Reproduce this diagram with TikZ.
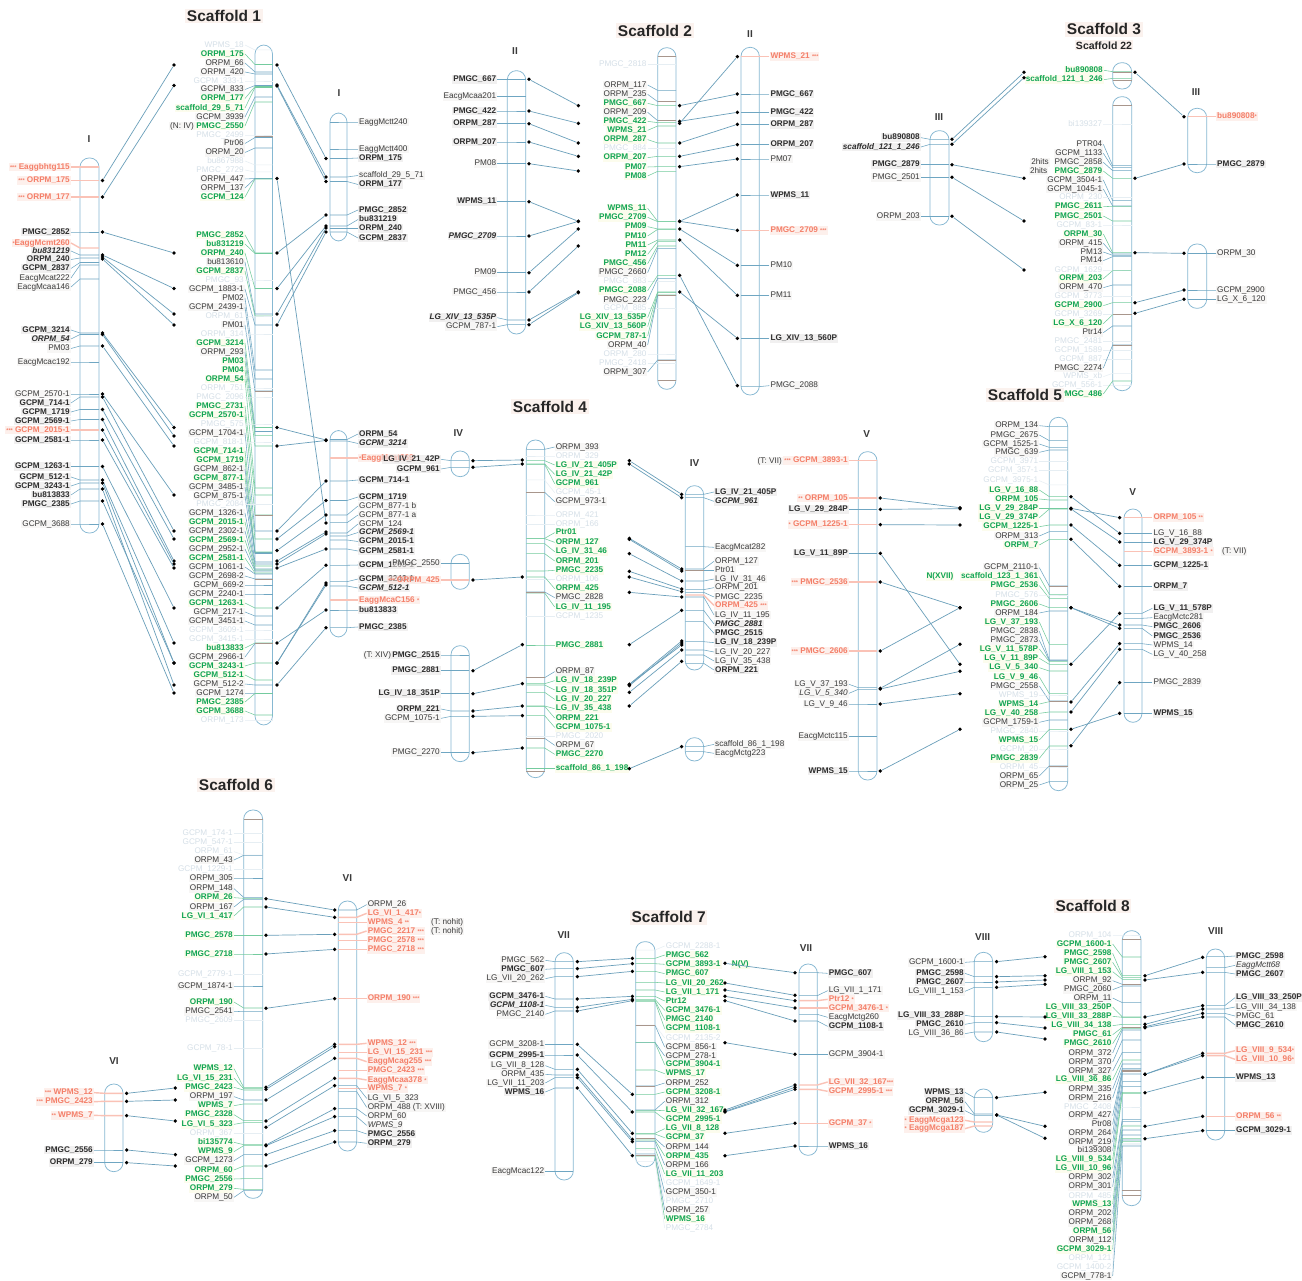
\documentclass[tikz,border=0pt]{standalone}
\usepackage{fontspec}
\setmainfont{Liberation Sans}
\definecolor{cchr}{HTML}{86B8D2}
\definecolor{cband}{HTML}{6FA6C2}
\definecolor{cbrown}{HTML}{A8968C}
\definecolor{cgrn}{HTML}{12A554}
\definecolor{cgrnl}{HTML}{74CB9E}
\definecolor{cfade}{HTML}{D6E0E8}
\definecolor{cfadel}{HTML}{E6EEF3}
\definecolor{cred}{HTML}{F47F69}
\definecolor{credl}{HTML}{FAC2B6}
\definecolor{ctxt}{HTML}{3A3A3A}
\definecolor{cconn}{HTML}{6A9FBA}
\definecolor{hn}{HTML}{F3F0EF}
\definecolor{hb}{HTML}{E9E7E7}
\definecolor{hg}{HTML}{FAFBE2}
\definecolor{hr}{HTML}{FDE6E0}
\definecolor{ht}{HTML}{FBF2EE}
\tikzset{
 lab/.style={inner xsep=1pt,inner ysep=.6pt,text height=6pt,text depth=1.6pt,font=\fontsize{8.2}{9}\selectfont},
 mn/.style={text=ctxt,fill=hn,fill opacity=.6,text opacity=1},
 mi/.style={text=ctxt,fill=hn,fill opacity=.6,text opacity=1,font=\fontsize{8.2}{9}\selectfont\itshape},
 mb/.style={text=ctxt!80!black,fill=hb,fill opacity=.6,text opacity=1,font=\fontsize{8.2}{9}\selectfont\bfseries},
 mbi/.style={text=ctxt!80!black,fill=hb,fill opacity=.6,text opacity=1,font=\fontsize{8.2}{9}\selectfont\bfseries\itshape},
 mg/.style={text=cgrn,fill=hg,fill opacity=.6,text opacity=1,font=\fontsize{8.2}{9}\selectfont\bfseries},
 mf/.style={text=cfade},
 mr/.style={text=cred,fill=hr,fill opacity=.6,text opacity=1,font=\fontsize{8.2}{9}\selectfont\bfseries},
 ldmn/.style={draw=cband,line width=.55pt},
 ldmi/.style={draw=cband,line width=.55pt},
 ldmb/.style={draw=cband,line width=.55pt},
 ldmbi/.style={draw=cband,line width=.55pt},
 ldmg/.style={draw=cgrnl,line width=.55pt},
 ldmf/.style={draw=cfadel,line width=.5pt},
 ldmr/.style={draw=credl,line width=1.4pt},
 chrom/.style={draw=cchr,line width=.75pt,rounded corners=9pt},
 dotn/.style={circle,fill=black,inner sep=0pt,minimum size=3.8pt},
 conn/.style={draw=cconn,line width=.7pt},
 ttl/.style={inner sep=1.5pt,fill=ht,text=black!85,font=\fontsize{15.5}{17}\selectfont\bfseries},
 ttls/.style={inner sep=1pt,fill=ht,text=black!85,font=\fontsize{10.5}{12}\selectfont\bfseries},
 rom/.style={inner sep=0pt,text=ctxt,font=\fontsize{10}{11}\selectfont\bfseries},
 bandb/.style={draw=cbrown,line width=.6pt}
}
\newcount\lk
\newcommand\Sx[1]{{\fontsize{5.5}{6}\selectfont #1}}
\newcommand\CHR[5]{\def\CL{#1}\def\CR{#2}\def\LX{#5}\draw[chrom] (#1,#3) rectangle (#2,#4);}
\newcommand\ML[4]{\global\advance\lk by 1
 \node[lab,#1,anchor=east] (t\the\lk) at (\LX,#3) {#2};
 \draw[ld#1] (t\the\lk.east) -- (\CL,#4) -- (\CR,#4);}
\newcommand\MR[4]{\global\advance\lk by 1
 \node[lab,#1,anchor=west] (t\the\lk) at (\LX,#3) {#2};
 \draw[ld#1] (t\the\lk.west) -- (\CR,#4) -- (\CL,#4);}
\newcommand\BN[1]{\draw[bandb] (\CL,#1) -- (\CR,#1);}
\newcommand\TT[5]{\global\advance\lk by 1
 \node[#1,anchor=#2] (t\the\lk) at (#3,#4) {#5};}
\newcommand\LK[4]{\global\advance\lk by 1
 \node[dotn] (a\the\lk) at (#1,#2) {};
 \node[dotn] (b\the\lk) at (#3,#4) {};
 \draw[conn] (a\the\lk) -- (b\the\lk);}
\begin{document}
\catcode`\_=12
\begin{tikzpicture}[x=1pt,y=-1pt]
\useasboundingbox (0,0) rectangle (1302,1281);
\fill[white] (0,0) rectangle (1302,1281);
% ---------- Scaffold 1 (pixel units)
\TT{ttl}{center}{224}{16}{Scaffold 1}
\TT{rom}{center}{89}{139}{I}
\TT{rom}{center}{339}{93}{I}
\CHR{80}{99}{158}{533}{71}
\ML{mr}{\Sx{***} Eaggbhtg115}{167}{167}
\ML{mr}{\Sx{***} ORPM_175}{180.5}{180.5}
\ML{mr}{\Sx{***} ORPM_177}{197}{197}
\ML{mb}{PMGC_2852}{232}{232}
\ML{mr}{\Sx{*}EaggMcmt260}{243}{248}
\ML{mbi}{bu831219}{251}{255}
\ML{mb}{ORPM_240}{259.5}{258}
\ML{mb}{GCPM_2837}{268.5}{262.5}
\ML{mn}{EacgMcat222}{278}{265}
\ML{mn}{EacgMcaa146}{287}{279}
\ML{mb}{GCPM_3214}{330}{333}
\ML{mbi}{ORPM_54}{339}{334.5}
\ML{mn}{PM03}{348.5}{346}
\ML{mn}{EacgMcac192}{362}{362}
\ML{mn}{GCPM_2570-1}{394}{394}
\ML{mb}{GCPM_714-1}{403}{397}
\ML{mb}{GCPM_1719}{412}{409.5}
\ML{mb}{GCPM_2569-1}{421}{419.5}
\ML{mr}{\Sx{***} GCPM_2015-1}{430}{430}
\ML{mb}{GCPM_2581-1}{440}{440}
\ML{mb}{GCPM_1263-1}{466.5}{466.5}
\ML{mb}{GCPM_512-1}{477}{480}
\ML{mb}{GCPM_3243-1}{486}{483}
\ML{mb}{bu813833}{495}{489}
\ML{mb}{PMGC_2385}{504}{501}
\ML{mn}{GCPM_3688}{524}{524}
\CHR{255}{272.5}{45}{725}{245}
\ML{mf}{WPMS_18}{45}{50}
\ML{mg}{ORPM_175}{54}{64.5}
\ML{mn}{ORPM_66}{63}{72}
\ML{mn}{ORPM_420}{72}{74}
\ML{mf}{GCPM_333-1}{81}{81}
\ML{mn}{GCPM_833}{89.5}{85.5}
\ML{mg}{ORPM_177}{98.5}{86.5}
\ML{mg}{scaffold_29_5_71}{108}{87.5}
\ML{mn}{GCPM_3939}{117}{97}
\ML{mg}{PMGC_2550}{126}{102}
\TT{mn,lab}{east}{195}{126}{(N: IV)}
\ML{mf}{PMGC_2499}{135}{135}
\BN{136}
\BN{137}
\ML{mn}{Ptr06}{143.5}{137.5}
\ML{mn}{ORPM_20}{152.5}{148}
\ML{mf}{bu867988}{161}{165}
\ML{mf}{PMGC_2729}{170}{172}
\ML{mn}{ORPM_447}{179}{178.5}
\ML{mn}{ORPM_137}{188}{178.5}
\ML{mg}{GCPM_124}{197}{179}
\ML{mg}{PMGC_2852}{235}{253}
\ML{mg}{bu831219}{244}{253.5}
\ML{mg}{ORPM_240}{253}{288.5}
\ML{mn}{bu813610}{262}{314}
\ML{mg}{GCPM_2837}{271}{316}
\ML{mf}{PMGC_93}{280}{280}
\ML{mn}{GCPM_1883-1}{289}{325}
\ML{mn}{PM02}{298}{370}
\ML{mn}{GCPM_2439-1}{307}{379}
\ML{mf}{ORPM_61}{316}{316}
\ML{mn}{PM01}{325}{391}
\ML{mf}{ORPM_314}{334}{334}
\ML{mg}{GCPM_3214}{343}{427.5}
\ML{mn}{ORPM_293}{352}{431.5}
\ML{mg}{PM03}{361}{435.7}
\ML{mg}{PM04}{370}{446}
\ML{mg}{ORPM_54}{379}{488}
\ML{mf}{ORPM_751}{388}{388}
\ML{mf}{PMGC_2096}{397}{397}
\ML{mg}{PMGC_2731}{406}{495}
\ML{mg}{GCPM_2570-1}{415}{515}
\ML{mf}{PMGC_575}{424}{424}
\ML{mn}{GCPM_1704-1}{433}{531}
\ML{mf}{GCPM_818-1}{442}{442}
\ML{mg}{GCPM_714-1}{451}{539}
\ML{mg}{GCPM_1719}{460}{552}
\ML{mn}{GCPM_862-1}{469}{552.5}
\ML{mg}{GCPM_877-1}{478}{553}
\ML{mn}{GCPM_3485-1}{487}{553.5}
\ML{mn}{GCPM_875-1}{496}{562}
\ML{mf}{PMGC_2084}{504.5}{504.5}
\ML{mn}{GCPM_1326-1}{513}{564}
\ML{mg}{GCPM_2015-1}{522}{566}
\ML{mn}{GCPM_2302-1}{531}{569}
\ML{mg}{GCPM_2569-1}{540}{570}
\ML{mn}{GCPM_2952-1}{549}{571}
\ML{mg}{GCPM_2581-1}{558}{573}
\ML{mn}{GCPM_1061-1}{567}{574}
\ML{mn}{GCPM_2698-2}{576}{579}
\ML{mn}{GCPM_669-2}{585}{585}
\ML{mn}{GCPM_2240-1}{594}{594}
\ML{mg}{GCPM_1263-1}{603}{608}
\ML{mn}{GCPM_217-1}{612}{616}
\ML{mn}{GCPM_3451-1}{621}{625}
\ML{mf}{GCPM_3609-1}{630}{630}
\ML{mf}{GCPM_3415-1}{639}{639}
\ML{mg}{bu813833}{648}{643}
\ML{mn}{GCPM_2966-1}{657}{643.5}
\ML{mg}{GCPM_3243-1}{666}{663}
\ML{mg}{GCPM_512-1}{675}{680}
\ML{mn}{GCPM_512-2}{684}{685}
\ML{mn}{GCPM_1274}{693}{693}
\ML{mg}{PMGC_2385}{702}{693.5}
\ML{mg}{GCPM_3688}{711}{715}
\ML{mf}{ORPM_173}{720}{720}
\BN{391}
\BN{515}
\BN{579}
\BN{643}
\CHR{330}{347}{113}{241}{358}
\MR{mn}{EaggMctt240}{122}{122}
\MR{mn}{EaggMctt400}{149}{149}
\MR{mb}{ORPM_175}{158}{158.5}
\MR{mn}{scaffold_29_5_71}{175.5}{177}
\MR{mb}{ORPM_177}{184.5}{181.5}
\MR{mb}{PMGC_2852}{210}{215}
\MR{mb}{bu831219}{219.5}{226}
\MR{mb}{ORPM_240}{228.5}{228.5}
\MR{mb}{GCPM_2837}{238}{232}
\CHR{330}{347}{430.5}{637}{358}
\MR{mb}{ORPM_54}{434}{439.5}
\MR{mbi}{GCPM_3214}{443.5}{441}
\MR{mr}{\Sx{*}EaggMcat269}{458}{458}
\MR{mb}{GCPM_714-1}{480}{481}
\MR{mb}{GCPM_1719}{497}{500.5}
\MR{mn}{GCPM_877-1 b}{506}{515}
\MR{mn}{GCPM_877-1 a}{515}{522.7}
\MR{mn}{GCPM_124}{524}{533}
\MR{mbi}{GCPM_2569-1}{532.5}{536}
\MR{mb}{GCPM_2015-1}{541.5}{540}
\MR{mb}{GCPM_2581-1}{551}{549}
\MR{mb}{GCPM_1263-1}{565}{565.3}
\MR{mb}{GCPM_3243-1}{579}{581.7}
\MR{mbi}{GCPM_512-1}{588}{586}
\MR{mr}{EaggMcaC156 \Sx{*}}{600}{600}
\MR{mb}{bu813833}{610}{610}
\MR{mb}{PMGC_2385}{627}{627.7}
\LK{102.5}{180.5}{174}{65}
\LK{102.5}{197}{174}{85.5}
\LK{102.5}{232}{174}{253}
\LK{102.5}{255}{174}{288.5}
\LK{102.5}{257}{174}{314}
\LK{102.5}{259}{174}{325}
\LK{102.5}{333}{174}{427.5}
\LK{102.5}{334.5}{174}{436}
\LK{102.5}{346}{174}{446}
\LK{102.5}{394}{174}{495}
\LK{102.5}{397}{174}{531}
\LK{102.5}{409.5}{174}{539}
\LK{102.5}{419.5}{174}{561}
\LK{102.5}{430}{174}{564}
\LK{102.5}{440}{174}{568}
\LK{102.5}{466.5}{174}{608}
\LK{102.5}{480}{174}{643}
\LK{102.5}{483}{174}{663}
\LK{102.5}{489}{174}{685}
\LK{102.5}{501}{174}{663}
\LK{102.5}{524}{174}{693}
\LK{277}{65}{326}{158.5}
\LK{277}{85}{326}{177}
\LK{277}{86}{326}{181.5}
\LK{277}{178.5}{326}{523}
\LK{277}{253}{326}{215}
\LK{277}{288.5}{326}{226}
\LK{277}{314}{326}{228}
\LK{277}{325}{326}{232}
\LK{277}{427.5}{326}{440}
\LK{277}{446}{326}{440.5}
\LK{277}{531}{326}{481}
\LK{277}{539}{326}{500.5}
\LK{277}{550.5}{326}{515}
\LK{277}{561}{326}{532}
\LK{277}{564}{326}{534}
\LK{277}{568}{326}{549}
\LK{277}{608}{326}{565.3}
\LK{277}{643}{326}{610}
\LK{277}{663}{326}{583}
\LK{277}{663}{326}{585}
\LK{277}{685}{326}{627.7}
% ---------- Scaffold 2
\begin{scope}[shift={(430,20)},x=.33333pt,y=-.33333pt]
\TT{ttl}{center}{675}{32}{Scaffold 2}
\TT{rom}{center}{255}{93}{II}
\TT{rom}{center}{960}{43}{II}
\CHR{232}{287}{152}{942}{202}
\ML{mb}{PMGC_667}{178}{178}
\ML{mn}{EacgMcaa201}{230}{230}
\ML{mb}{PMGC_422}{273}{273}
\ML{mb}{ORPM_287}{311}{311}
\ML{mb}{ORPM_207}{366}{366}
\ML{mn}{PM08}{431}{431}
\ML{mb}{WPMS_11}{545}{545}
\ML{mbi}{PMGC_2709}{648}{648}
\ML{mn}{PM09}{758}{758}
\ML{mn}{PMGC_456}{816}{816}
\ML{mbi}{LG_XIV_13_535P}{893}{900}
\ML{mn}{GCPM_787-1}{920}{914}
\CHR{683}{738}{83}{1108}{653}
\BN{110}
\ML{mf}{PMGC_2818}{133}{133}
\ML{mn}{ORPM_117}{195}{211}
\ML{mn}{ORPM_235}{223}{245}
\ML{mg}{PMGC_667}{250}{257}
\ML{mn}{ORPM_209}{277}{302}
\ML{mg}{PMGC_422}{304}{308}
\ML{mg}{WPMS_21}{331}{318}
\ML{mg}{ORPM_287}{359}{369}
\ML{mf}{PMGC_884}{386}{386}
\ML{mg}{ORPM_207}{413}{409}
\ML{mg}{PM07}{441}{440}
\ML{mg}{PM08}{468}{454}
\ML{mg}{WPMS_11}{565}{604}
\ML{mg}{PMGC_2709}{592}{605}
\ML{mg}{PM09}{620}{627}
\ML{mg}{PM10}{648}{628}
\ML{mg}{PM11}{675}{660}
\ML{mg}{PM12}{703}{665}
\ML{mg}{PMGC_456}{731}{678}
\ML{mn}{PMGC_2660}{758}{685}
\ML{mf}{PMGC_883}{785}{785}
\ML{mg}{PMGC_2088}{812}{766}
\ML{mn}{PMGC_223}{840}{775}
\ML{mf}{GCPM_885}{865}{865}
\ML{mg}{LG_XIV_13_535P}{893}{816}
\ML{mg}{LG_XIV_13_560P}{920}{818}
\ML{mg}{GCPM_787-1}{948}{825}
\ML{mn}{ORPM_40}{975}{826}
\ML{mf}{ORPM_280}{1002}{1002}
\ML{mf}{PMGC_2418}{1030}{1030}
\ML{mn}{ORPM_307}{1056}{1020}
\BN{1082}
\BN{1020}
\BN{245}
\BN{302}
\BN{826}
\CHR{933}{988}{82}{1125}{1018}
\MR{mr}{WPMS_21 \Sx{***}}{110}{110}
\MR{mb}{PMGC_667}{222}{222}
\MR{mb}{PMGC_422}{277}{277}
\MR{mb}{ORPM_287}{313}{313}
\MR{mb}{ORPM_207}{374}{374}
\MR{mn}{PM07}{417}{417}
\MR{mb}{WPMS_11}{525}{525}
\MR{mr}{PMGC_2709 \Sx{***}}{631}{631}
\MR{mn}{PM10}{736}{736}
\MR{mn}{PM11}{826}{826}
\MR{mb}{LG_XIV_13_560P}{955}{955}
\MR{mn}{PMGC_2088}{1097}{1100}
\LK{297}{178}{445}{257}
\LK{297}{273}{445}{310}
\LK{297}{311}{445}{369}
\LK{297}{366}{445}{409}
\LK{297}{431}{445}{453}
\LK{297}{545}{445}{604}
\LK{297}{648}{445}{604}
\LK{297}{758}{445}{627}
\LK{297}{816}{445}{678}
\LK{297}{900}{445}{816}
\LK{297}{914}{445}{818}
\LK{749}{257}{922}{222}
\LK{749}{304}{922}{277}
\LK{749}{310}{922}{110}
\LK{749}{369}{922}{313}
\LK{749}{409}{922}{374}
\LK{749}{440}{922}{417}
\LK{749}{604}{922}{525}
\LK{749}{604}{922}{631}
\LK{749}{627}{922}{736}
\LK{749}{660}{922}{826}
\LK{749}{766}{922}{1097}
\LK{749}{816}{922}{955}
\end{scope}
% ---------- Scaffold 3 / 22
\begin{scope}[shift={(850,20)},x=.33333pt,y=-.33333pt]
\TT{ttl}{center}{762}{28}{Scaffold 3}
\TT{ttls}{center}{762}{76}{Scaffold 22}
\TT{rom}{center}{267}{290}{III}
\TT{rom}{center}{1038}{217}{III}
\TT{lab,mn}{center}{570}{427}{2hits}
\TT{lab,mn}{center}{566}{453}{2hits}
\CHR{240}{297}{332}{615}{213}
\ML{mb}{bu890808}{353}{358}
\ML{mbi}{scaffold_121_1_246}{381}{373}
\ML{mb}{PMGC_2879}{434}{434}
\ML{mn}{PMGC_2501}{472}{472}
\ML{mn}{ORPM_203}{589}{589}
\CHR{788}{845}{128}{207}{762}
\ML{mg}{bu890808}{151}{155}
\ML{mg}{scaffold_121_1_246}{179}{175}
\BN{158}
\BN{182}
\CHR{788}{845}{230}{1112}{760}
\BN{255}
\ML{mf}{bi139327}{312}{312}
\ML{mn}{PTR04}{373}{437}
\ML{mn}{GCPM_1133}{400}{443}
\ML{mn}{PMGC_2858}{427}{452}
\ML{mg}{PMGC_2879}{453}{475}
\ML{mn}{GCPM_3504-1}{480}{542}
\ML{mn}{GCPM_1045-1}{507}{558}
\ML{mf}{ORPM_230}{533}{533}
\ML{mg}{PMGC_2611}{560}{559}
\ML{mg}{PMGC_2501}{588}{603}
\ML{mf}{GCPM_83-1}{615}{615}
\ML{mg}{ORPM_30}{642}{698}
\ML{mn}{ORPM_415}{670}{702}
\ML{mn}{PM13}{696}{706}
\ML{mn}{PM14}{722}{710}
\ML{mf}{GCPM_1629}{750}{750}
\ML{mg}{ORPM_203}{776}{752}
\ML{mn}{ORPM_470}{803}{795}
\ML{mf}{GCPM_3773}{830}{830}
\ML{mg}{GCPM_2900}{857}{848}
\ML{mf}{GCPM_3269}{884}{884}
\ML{mg}{LG_X_6_120}{911}{884}
\ML{mn}{Ptr14}{938}{918}
\ML{mf}{PMGC_2481}{964}{964}
\ML{mf}{GCPM_1589}{991}{991}
\ML{mf}{GCPM_887}{1018}{1018}
\ML{mn}{PMGC_2274}{1044}{975}
\ML{mf}{WPMS_xb}{1070}{1060}
\ML{mf}{GCPM_556-1}{1095}{1095}
\ML{mg}{PMGC_486}{1122}{1083}
\BN{975}
\BN{884}
\CHR{1013}{1070}{265}{458}{1098}
\MR{mr}{bu890808\Sx{*}}{290}{290}
\MR{mb}{PMGC_2879}{432}{432}
\CHR{1013}{1070}{672}{865}{1098}
\MR{mn}{ORPM_30}{700}{700}
\MR{mn}{GCPM_2900}{810}{810}
\MR{mn}{LG_X_6_120}{838}{838}
\LK{306}{358}{522}{157}
\LK{306}{373}{522}{173}
\LK{306}{434}{522}{475}
\LK{306}{472}{522}{603}
\LK{306}{589}{522}{750}
\LK{855}{157}{1002}{290}
\LK{855}{475}{1002}{432}
\LK{855}{698}{1002}{700}
\LK{855}{848}{1002}{810}
\LK{855}{880}{1002}{838}
\end{scope}
% ---------- Scaffold 4
\begin{scope}[shift={(360,395)},x=.33333pt,y=-.33333pt]
\TT{ttl}{center}{570}{35}{Scaffold 4}
\TT{rom}{center}{295}{113}{IV}
\TT{rom}{center}{1004}{203}{IV}
\CHR{273}{328}{168}{245}{243}
\ML{mb}{LG_IV_21_42P}{193}{197}
\ML{mb}{GCPM_961}{222}{217}
\CHR{273}{328}{478}{583}{243}
\ML{mn}{PMGC_2550}{505}{505}
\ML{mr}{\Sx{***} ORPM_425}{555}{555}
\CHR{273}{328}{752}{1100}{243}
\ML{mb}{PMGC_2515}{780}{780}
\TT{lab,mn}{east}{97}{780}{(T: XIV)}
\ML{mb}{PMGC_2881}{827}{827}
\ML{mb}{LG_IV_18_351P}{896}{896}
\ML{mb}{ORPM_221}{942}{948}
\ML{mn}{GCPM_1075-1}{970}{964}
\ML{mn}{PMGC_2270}{1073}{1073}
\CHR{499}{554}{135}{1148}{584}
\MR{mn}{ORPM_393}{156}{163}
\MR{mf}{ORPM_329}{183}{183}
\MR{mg}{LG_IV_21_405P}{210}{197}
\MR{mg}{LG_IV_21_42P}{238}{207}
\MR{mg}{GCPM_961}{266}{208}
\MR{mf}{GCPM_45-1}{293}{255}
\MR{mn}{GCPM_973-1}{320}{292}
\MR{mf}{ORPM_421}{360}{360}
\MR{mf}{ORPM_166}{388}{388}
\MR{mg}{Ptr01}{413}{430}
\MR{mg}{ORPM_127}{442}{431}
\MR{mg}{LG_IV_31_46}{470}{446}
\MR{mg}{ORPM_201}{498}{476}
\MR{mg}{PMGC_2235}{526}{528}
\MR{mf}{ORPM_106}{553}{553}
\MR{mg}{ORPM_425}{581}{546}
\MR{mn}{PMGC_2828}{608}{591}
\MR{mg}{LG_IV_11_195}{636}{594}
\MR{mf}{GCPM_1235}{664}{664}
\MR{mg}{PMGC_2881}{750}{750}
\MR{mn}{ORPM_87}{830}{848}
\MR{mg}{LG_IV_18_239P}{857}{866}
\MR{mg}{LG_IV_18_351P}{885}{870}
\MR{mg}{LG_IV_20_227}{913}{892}
\MR{mg}{LG_IV_35_438}{941}{933}
\MR{mg}{ORPM_221}{969}{934}
\MR{mg}{GCPM_1075-1}{997}{962}
\MR{mf}{PMGC_2020}{1025}{1025}
\MR{mn}{ORPM_67}{1051}{1030}
\MR{mg}{PMGC_2270}{1078}{1059}
\MR{mg}{scaffold_86_1_198}{1121}{1121}
\BN{1128}
\BN{292}
\BN{591}
\BN{848}
\BN{1030}
\CHR{976}{1031}{272}{825}{1062}
\MR{mb}{LG_IV_21_405P}{291}{298}
\MR{mbi}{GCPM_961}{319}{308}
\MR{mn}{EacgMcat282}{457}{455}
\MR{mn}{ORPM_127}{499}{522}
\MR{mn}{Ptr01}{526}{526}
\MR{mn}{LG_IV_31_46}{552}{558}
\MR{mn}{ORPM_201}{578}{584}
\MR{mn}{PMGC_2235}{606}{592}
\MR{mr}{ORPM_425 \Sx{***}}{631}{600}
\MR{mn}{LG_IV_11_195}{660}{606}
\MR{mbi}{PMGC_2881}{687}{646}
\MR{mb}{PMGC_2515}{715}{680}
\MR{mb}{LG_IV_18_239P}{743}{740}
\MR{mn}{LG_IV_20_227}{771}{765}
\MR{mn}{LG_IV_35_438}{798}{780}
\MR{mb}{ORPM_221}{825}{805}
\BN{525}
\CHR{976}{1031}{1028}{1098}{1062}
\MR{mn}{scaffold_86_1_198}{1048}{1055}
\MR{mn}{EacgMctg223}{1075}{1070}
\LK{339}{197}{487}{195}
\LK{339}{217}{487}{207}
\LK{339}{555}{487}{546}
\LK{339}{827}{487}{749}
\LK{339}{896}{487}{866}
\LK{339}{948}{487}{933}
\LK{339}{964}{487}{962}
\LK{339}{1073}{487}{1059}
\LK{808}{197}{965}{298}
\LK{808}{207}{965}{308}
\LK{808}{430}{965}{522}
\LK{808}{433}{965}{528}
\LK{808}{476}{965}{558}
\LK{808}{529}{965}{582}
\LK{808}{546}{965}{590}
\LK{808}{592}{965}{606}
\LK{808}{749}{965}{646}
\LK{808}{868}{965}{738}
\LK{808}{872}{965}{744}
\LK{808}{868}{965}{750}
\LK{808}{892}{965}{765}
\LK{808}{933}{965}{799}
\LK{808}{1121}{965}{1055}
\end{scope}
% ---------- Scaffold 5
\begin{scope}[shift={(760,385)},x=.33333pt,y=-.33333pt]
\TT{ttl}{center}{795}{30}{Scaffold 5}
\TT{rom}{center}{320}{148}{V}
\TT{rom}{center}{1118}{322}{V}
\TT{lab,mn}{east}{69}{228}{(T: VII)}
\TT{lab,mg}{center}{540}{575}{N(XVII)}
\TT{lab,mn}{west}{1383}{500}{(T: VII)}
\CHR{295}{351}{200}{1185}{267}
\ML{mr}{\Sx{***} GCPM_3893-1}{227}{227}
\ML{mr}{\Sx{**} ORPM_105}{339}{339}
\ML{mb}{LG_V_29_284P}{373}{373}
\ML{mr}{\Sx{*} GCPM_1225-1}{419}{419}
\ML{mb}{LG_V_11_89P}{505}{505}
\ML{mr}{\Sx{***} PMGC_2536}{591}{591}
\ML{mr}{\Sx{***} PMGC_2606}{798}{798}
\ML{mn}{LG_V_37_193}{898}{908}
\ML{mi}{LG_V_5_340}{925}{913}
\ML{mn}{LG_V_9_46}{957}{957}
\ML{mn}{EacgMctc115}{1055}{1055}
\ML{mb}{WPMS_15}{1158}{1158}
\CHR{868}{923}{97}{1217}{838}
\ML{mn}{ORPM_134}{122}{125}
\ML{mn}{PMGC_2675}{150}{167}
\ML{mn}{GCPM_1525-1}{177}{187}
\ML{mn}{PMGC_639}{202}{195}
\ML{mf}{GCPM_3971}{230}{230}
\ML{mf}{GCPM_357-1}{257}{257}
\ML{mf}{GCPM_3975-1}{287}{300}
\ML{mg}{LG_V_16_88}{315}{335}
\ML{mg}{ORPM_105}{342}{345}
\ML{mg}{LG_V_29_284P}{370}{370}
\ML{mg}{LG_V_29_374P}{398}{372}
\ML{mg}{GCPM_1225-1}{425}{420}
\ML{mn}{ORPM_313}{453}{440}
\ML{mg}{ORPM_7}{480}{463}
\ML{mn}{GCPM_2110-1}{548}{603}
\ML{mg}{scaffold_123_1_361}{575}{628}
\ML{mg}{PMGC_2536}{602}{640}
\ML{mf}{PMGC_576}{630}{630}
\ML{mg}{PMGC_2606}{657}{668}
\ML{mn}{ORPM_184}{684}{678}
\ML{mg}{LG_V_37_193}{711}{778}
\ML{mn}{PMGC_2838}{739}{825}
\ML{mn}{PMGC_2873}{766}{827}
\ML{mg}{LG_V_11_578P}{792}{830}
\ML{mg}{LG_V_11_89P}{820}{838}
\ML{mg}{LG_V_5_340}{848}{858}
\ML{mg}{LG_V_9_46}{876}{926}
\ML{mn}{PMGC_2558}{903}{948}
\ML{mf}{WPMS_19}{930}{930}
\ML{mg}{WPMS_14}{957}{950}
\ML{mg}{LG_V_40_258}{985}{981}
\ML{mn}{GCPM_1759-1}{1012}{1005}
\ML{mf}{PMGC_2840}{1038}{1038}
\ML{mg}{WPMS_15}{1065}{1033}
\ML{mf}{GCPM_20}{1092}{1092}
\ML{mg}{PMGC_2839}{1120}{1083}
\ML{mf}{ORPM_45}{1146}{1146}
\ML{mn}{ORPM_65}{1173}{1143}
\ML{mn}{ORPM_25}{1200}{1190}
\BN{603}
\BN{948}
\BN{1143}
\CHR{1092}{1146}{372}{1012}{1177}
\MR{mr}{ORPM_105 \Sx{**}}{398}{398}
\MR{mn}{LG_V_16_88}{446}{446}
\MR{mb}{LG_V_29_374P}{472}{472}
\MR{mr}{GCPM_3893-1 \Sx{*}}{500}{500}
\MR{mb}{GCPM_1225-1}{542}{542}
\MR{mb}{ORPM_7}{604}{604}
\MR{mb}{LG_V_11_578P}{670}{685}
\MR{mn}{EacgMctc281}{698}{700}
\MR{mb}{PMGC_2606}{725}{720}
\MR{mb}{PMGC_2536}{753}{730}
\MR{mn}{WPMS_14}{780}{776}
\MR{mn}{LG_V_40_258}{808}{793}
\MR{mn}{PMGC_2839}{893}{893}
\MR{mb}{WPMS_15}{985}{985}
\LK{361}{339}{600}{368}
\LK{361}{373}{600}{371}
\LK{361}{419}{600}{420}
\LK{361}{505}{600}{838}
\LK{361}{591}{600}{668}
\LK{361}{798}{600}{668}
\LK{361}{910}{600}{778}
\LK{361}{912}{600}{859}
\LK{361}{957}{600}{926}
\LK{361}{1158}{600}{1033}
\LK{933}{335}{1079}{445}
\LK{933}{370}{1079}{398}
\LK{933}{372}{1079}{471}
\LK{933}{420}{1079}{541}
\LK{933}{463}{1079}{604}
\LK{933}{668}{1079}{720}
\LK{933}{668}{1079}{730}
\LK{933}{838}{1079}{685}
\LK{933}{951}{1079}{776}
\LK{933}{981}{1079}{793}
\LK{933}{1033}{1079}{985}
\LK{933}{1082}{1079}{893}
\end{scope}
% ---------- Scaffold 6
\begin{scope}[shift={(20,780)},x=.33333pt,y=-.33333pt]
\TT{ttl}{center}{648}{15}{Scaffold 6}
\TT{rom}{center}{282}{843}{VI}
\TT{rom}{center}{982}{295}{VI}
\TT{lab,mn}{west}{1230}{427}{(T: nohit)}
\TT{lab,mn}{west}{1230}{453}{(T: nohit)}
\CHR{254}{309}{912}{1175}{222}
\ML{mr}{\Sx{***} WPMS_12}{938}{940}
\ML{mr}{\Sx{***} PMGC_2423}{965}{964}
\ML{mr}{\Sx{**} WPMS_7}{1006}{1007}
\ML{mb}{PMGC_2556}{1110}{1110}
\ML{mb}{ORPM_279}{1148}{1148}
\CHR{671}{728}{90}{1255}{642}
\BN{118}
\ML{mf}{GCPM_174-1}{160}{160}
\ML{mf}{GCPM_547-1}{187}{187}
\ML{mf}{ORPM_61}{215}{225}
\ML{mn}{ORPM_43}{240}{226}
\ML{mf}{GCPM_1229-1}{268}{268}
\ML{mn}{ORPM_305}{294}{294}
\ML{mn}{ORPM_148}{326}{352}
\ML{mg}{ORPM_26}{353}{355}
\ML{mn}{ORPM_167}{381}{358}
\ML{mg}{LG_VI_1_417}{408}{381}
\ML{mg}{PMGC_2578}{467}{467}
\ML{mg}{PMGC_2718}{522}{522}
\ML{mf}{GCPM_2779-1}{583}{583}
\ML{mn}{GCPM_1874-1}{618}{618}
\ML{mg}{ORPM_190}{666}{684}
\ML{mn}{PMGC_2541}{694}{695}
\ML{mf}{PMGC_2609}{722}{722}
\ML{mf}{GCPM_78-1}{805}{805}
\ML{mg}{WPMS_12}{866}{922}
\ML{mg}{LG_VI_15_231}{894}{926}
\ML{mg}{PMGC_2423}{922}{930}
\ML{mn}{ORPM_197}{950}{960}
\ML{mg}{WPMS_7}{977}{972}
\ML{mg}{PMGC_2328}{1004}{1022}
\ML{mg}{LG_VI_5_323}{1033}{1028}
\ML{mf}{ORPM_367}{1060}{1060}
\ML{mg}{bi135774}{1087}{1094}
\ML{mg}{WPMS_9}{1115}{1097}
\ML{mn}{GCPM_1273}{1142}{1124}
\ML{mg}{ORPM_60}{1170}{1158}
\ML{mg}{PMGC_2556}{1197}{1196}
\ML{mg}{ORPM_279}{1225}{1228}
\ML{mn}{ORPM_50}{1252}{1232}
\CHR{955}{1010}{363}{1113}{1040}
\MR{mn}{ORPM_26}{374}{390}
\MR{mr}{LG_VI_1_417\Sx{*}}{400}{412}
\MR{mr}{WPMS_4 \Sx{**}}{427}{427}
\MR{mr}{PMGC_2217 \Sx{***}}{453}{463}
\MR{mr}{PMGC_2578 \Sx{***}}{481}{481}
\MR{mr}{PMGC_2718 \Sx{***}}{508}{508}
\MR{mr}{ORPM_190 \Sx{***}}{656}{656}
\MR{mr}{WPMS_12 \Sx{***}}{790}{793}
\MR{mr}{LG_VI_15_231 \Sx{***}}{818}{818}
\MR{mr}{EaggMcag255 \Sx{***}}{845}{835}
\MR{mr}{PMGC_2423 \Sx{***}}{872}{872}
\MR{mr}{EaggMcaa378 \Sx{*}}{900}{895}
\MR{mr}{WPMS_7 \Sx{*}}{925}{925}
\MR{mn}{LG_VI_5_323}{955}{917}
\MR{mn}{ORPM_488 (T: XVIII)}{982}{935}
\MR{mn}{ORPM_60}{1008}{986}
\MR{mi}{WPMS_9}{1036}{1010}
\MR{mb}{PMGC_2556}{1062}{1052}
\MR{mb}{ORPM_279}{1090}{1086}
\LK{320}{940}{466}{924}
\LK{320}{964}{466}{960}
\LK{320}{1007}{466}{1023}
\LK{320}{1110}{466}{1124}
\LK{320}{1148}{466}{1158}
\LK{738}{356}{944}{390}
\LK{738}{381}{944}{412}
\LK{738}{466}{944}{463}
\LK{738}{522}{944}{508}
\LK{738}{685}{944}{656}
\LK{738}{922}{944}{793}
\LK{738}{928}{944}{800}
\LK{738}{960}{944}{835}
\LK{738}{1023}{944}{895}
\LK{738}{1042}{944}{917}
\LK{738}{1095}{944}{986}
\LK{738}{1097}{944}{1010}
\LK{738}{1124}{944}{1052}
\LK{738}{1158}{944}{1086}
\end{scope}
% ---------- Scaffold 7
\begin{scope}[shift={(480,900)},x=.33333pt,y=-.33333pt]
\TT{ttl}{center}{566}{52}{Scaffold 7}
\TT{rom}{center}{251}{105}{VII}
\TT{rom}{center}{978}{145}{VII}
\TT{lab,mg}{west}{752}{194}{N(V)}
\CHR{225}{280}{158}{840}{196}
\ML{mn}{PMGC_562}{181}{185}
\ML{mb}{PMGC_607}{208}{206}
\ML{mn}{LG_VII_20_262}{236}{230}
\ML{mb}{GCPM_3476-1}{289}{297}
\ML{mbi}{GCPM_1108-1}{316}{322}
\ML{mn}{PMGC_2140}{343}{333}
\ML{mn}{GCPM_3208-1}{433}{433}
\ML{mb}{GCPM_2995-1}{465}{465}
\ML{mn}{LG_VII_8_128}{497}{508}
\ML{mn}{ORPM_435}{523}{525}
\ML{mn}{LG_VII_11_203}{549}{533}
\ML{mb}{WPMS_16}{576}{564}
\ML{mn}{EacgMcac122}{814}{814}
\CHR{467}{525}{125}{800}{554}
\MR{mf}{GCPM_2288-1}{138}{150}
\MR{mg}{PMGC_562}{165}{175}
\MR{mg}{GCPM_3893-1}{193}{191}
\MR{mg}{PMGC_607}{221}{214}
\MR{mg}{LG_VII_20_262}{249}{247}
\MR{mg}{LG_VII_1_171}{276}{270}
\MR{mg}{Ptr12}{303}{289}
\MR{mg}{GCPM_3476-1}{331}{298}
\MR{mg}{PMGC_2140}{359}{302}
\MR{mg}{GCPM_1108-1}{386}{304}
\MR{mf}{GCPM_2135-2}{414}{375}
\MR{mn}{GCPM_856-1}{441}{376}
\MR{mn}{GCPM_278-1}{468}{427}
\MR{mg}{GCPM_3904-1}{494}{428}
\MR{mg}{WPMS_17}{521}{510}
\MR{mn}{ORPM_252}{549}{558}
\MR{mg}{GCPM_3208-1}{576}{583}
\MR{mn}{ORPM_312}{604}{630}
\MR{mg}{LG_VII_32_167}{631}{632}
\MR{mg}{GCPM_2995-1}{658}{636}
\MR{mg}{LG_VII_8_128}{686}{700}
\MR{mg}{GCPM_37}{713}{702}
\MR{mn}{ORPM_144}{741}{715}
\MR{mg}{ORPM_435}{768}{720}
\MR{mn}{ORPM_166}{795}{725}
\MR{mg}{LG_VII_11_203}{822}{745}
\MR{mf}{GCPM_1649-1}{849}{750}
\MR{mn}{GCPM_350-1}{877}{762}
\MR{mf}{PMGC_2710}{904}{764}
\MR{mn}{ORPM_257}{930}{766}
\MR{mg}{WPMS_16}{957}{768}
\MR{mf}{PMGC_2784}{984}{784}
\BN{376}
\BN{558}
\BN{715}
\BN{766}
\CHR{957}{1012}{192}{766}{1043}
\MR{mb}{PMGC_607}{220}{218}
\MR{mn}{LG_VII_1_171}{272}{287}
\MR{mr}{Ptr12 \Sx{*}}{298}{302}
\MR{mr}{GCPM_3476-1 \Sx{*}}{324}{324}
\MR{mn}{EacgMctg260}{352}{343}
\MR{mb}{GCPM_1108-1}{379}{363}
\MR{mn}{GCPM_3904-1}{463}{463}
\MR{mr}{LG_VII_32_167\Sx{***}}{546}{555}
\MR{mr}{GCPM_2995-1 \Sx{***}}{574}{568}
\MR{mr}{GCPM_37 \Sx{*}}{670}{670}
\MR{mb}{WPMS_16}{738}{738}
\LK{292}{185}{457}{175}
\LK{292}{206}{457}{191}
\LK{292}{230}{457}{214}
\LK{292}{297}{457}{289}
\LK{292}{322}{457}{298}
\LK{292}{333}{457}{302}
\LK{292}{433}{457}{583}
\LK{292}{465}{457}{636}
\LK{292}{508}{457}{700}
\LK{292}{525}{457}{718}
\LK{292}{533}{457}{725}
\LK{292}{564}{457}{767}
\LK{735}{190}{945}{218}
\LK{735}{249}{945}{286}
\LK{735}{270}{945}{302}
\LK{735}{289}{945}{324}
\LK{735}{302}{945}{363}
\LK{735}{428}{945}{463}
\LK{735}{630}{945}{555}
\LK{735}{634}{945}{562}
\LK{735}{636}{945}{568}
\LK{735}{700}{945}{670}
\LK{735}{767}{945}{738}
\end{scope}
% ---------- Scaffold 8
\begin{scope}[shift={(890,890)},x=.33333pt,y=-.33333pt]
\TT{ttl}{center}{608}{48}{Scaffold 8}
\TT{rom}{center}{278}{140}{VIII}
\TT{rom}{center}{977}{122}{VIII}
\CHR{253}{308}{187}{455}{225}
\ML{mn}{GCPM_1600-1}{217}{215}
\ML{mb}{PMGC_2598}{250}{260}
\ML{mb}{PMGC_2607}{276}{276}
\ML{mn}{LG_VIII_1_153}{304}{292}
\ML{mb}{LG_VIII_33_288P}{376}{380}
\ML{mb}{PMGC_2610}{403}{398}
\ML{mn}{LG_VIII_36_86}{431}{426}
\CHR{253}{308}{597}{727}{225}
\ML{mb}{WPMS_13}{607}{623}
\ML{mb}{ORPM_56}{635}{672}
\ML{mb}{GCPM_3029-1}{662}{676}
\ML{mr}{\Sx{*} EaggMcga123}{691}{696}
\ML{mr}{\Sx{*} EaggMcga187}{716}{708}
\CHR{697}{753}{122}{947}{668}
\BN{148}
\BN{900}
\BN{915}
\ML{mf}{ORPM_104}{135}{135}
\ML{mg}{GCPM_1600-1}{162}{201}
\ML{mg}{PMGC_2598}{190}{257}
\ML{mg}{PMGC_2607}{217}{262}
\ML{mg}{LG_VIII_1_153}{245}{268}
\ML{mn}{ORPM_92}{272}{283}
\ML{mn}{PMGC_2060}{299}{288}
\ML{mn}{ORPM_11}{324}{338}
\ML{mg}{LG_VIII_33_250P}{351}{381}
\ML{mg}{LG_VIII_33_288P}{379}{382}
\ML{mg}{LG_VIII_34_138}{407}{403}
\ML{mg}{PMGC_61}{434}{412}
\ML{mg}{PMGC_2610}{461}{415}
\ML{mn}{ORPM_372}{489}{420}
\ML{mn}{ORPM_370}{516}{450}
\ML{mn}{ORPM_327}{543}{487}
\ML{mg}{LG_VIII_36_86}{569}{510}
\ML{mn}{ORPM_335}{597}{522}
\ML{mn}{ORPM_216}{624}{535}
\ML{mf}{PMGC_2408}{651}{651}
\ML{mn}{ORPM_427}{677}{540}
\ML{mn}{Ptr08}{703}{545}
\ML{mn}{ORPM_264}{730}{552}
\ML{mn}{ORPM_219}{756}{575}
\ML{mn}{bi139308}{782}{590}
\ML{mg}{LG_VIII_9_534}{808}{607}
\ML{mg}{LG_VIII_10_96}{835}{610}
\ML{mn}{ORPM_302}{863}{688}
\ML{mn}{ORPM_301}{890}{695}
\ML{mf}{ORPM_485}{918}{705}
\ML{mg}{WPMS_13}{942}{708}
\ML{mn}{ORPM_202}{971}{720}
\ML{mn}{ORPM_268}{997}{735}
\ML{mg}{ORPM_56}{1023}{745}
\ML{mn}{ORPM_112}{1050}{750}
\ML{mg}{GCPM_3029-1}{1078}{755}
\ML{mf}{ORPM_121}{1105}{760}
\ML{mf}{GCPM_1400-2}{1132}{764}
\ML{mn}{GCPM_778-1}{1158}{768}
\BN{283}
\BN{412}
\BN{540}
\BN{545}
\CHR{949}{1004}{177}{750}{1035}
\MR{mb}{PMGC_2598}{198}{200}
\MR{mi}{EaggMctt68}{226}{233}
\MR{mb}{PMGC_2607}{252}{247}
\MR{mb}{LG_VIII_33_250P}{323}{347}
\MR{mn}{LG_VIII_34_138}{351}{357}
\MR{mn}{PMGC_61}{378}{370}
\MR{mb}{PMGC_2610}{405}{381}
\MR{mr}{LG_VIII_9_534\Sx{*}}{482}{490}
\MR{mr}{LG_VIII_10_96\Sx{*}}{508}{497}
\MR{mb}{WPMS_13}{562}{562}
\MR{mr}{ORPM_56 \Sx{**}}{679}{679}
\MR{mb}{GCPM_3029-1}{722}{722}
\LK{320}{215}{465}{200}
\LK{320}{260}{465}{257}
\LK{320}{276}{465}{270}
\LK{320}{292}{465}{283}
\LK{320}{380}{465}{381}
\LK{320}{398}{465}{414}
\LK{320}{426}{465}{447}
\LK{320}{623}{465}{607}
\LK{320}{675}{465}{709}
\LK{320}{675}{465}{745}
\LK{765}{257}{938}{202}
\LK{765}{270}{938}{247}
\LK{765}{381}{938}{347}
\LK{765}{403}{938}{357}
\LK{765}{410}{938}{370}
\LK{765}{413}{938}{381}
\LK{765}{553}{938}{490}
\LK{765}{553}{938}{497}
\LK{765}{608}{938}{562}
\LK{765}{709}{938}{679}
\LK{765}{746}{938}{722}
\end{scope}
\end{tikzpicture}
\end{document}
